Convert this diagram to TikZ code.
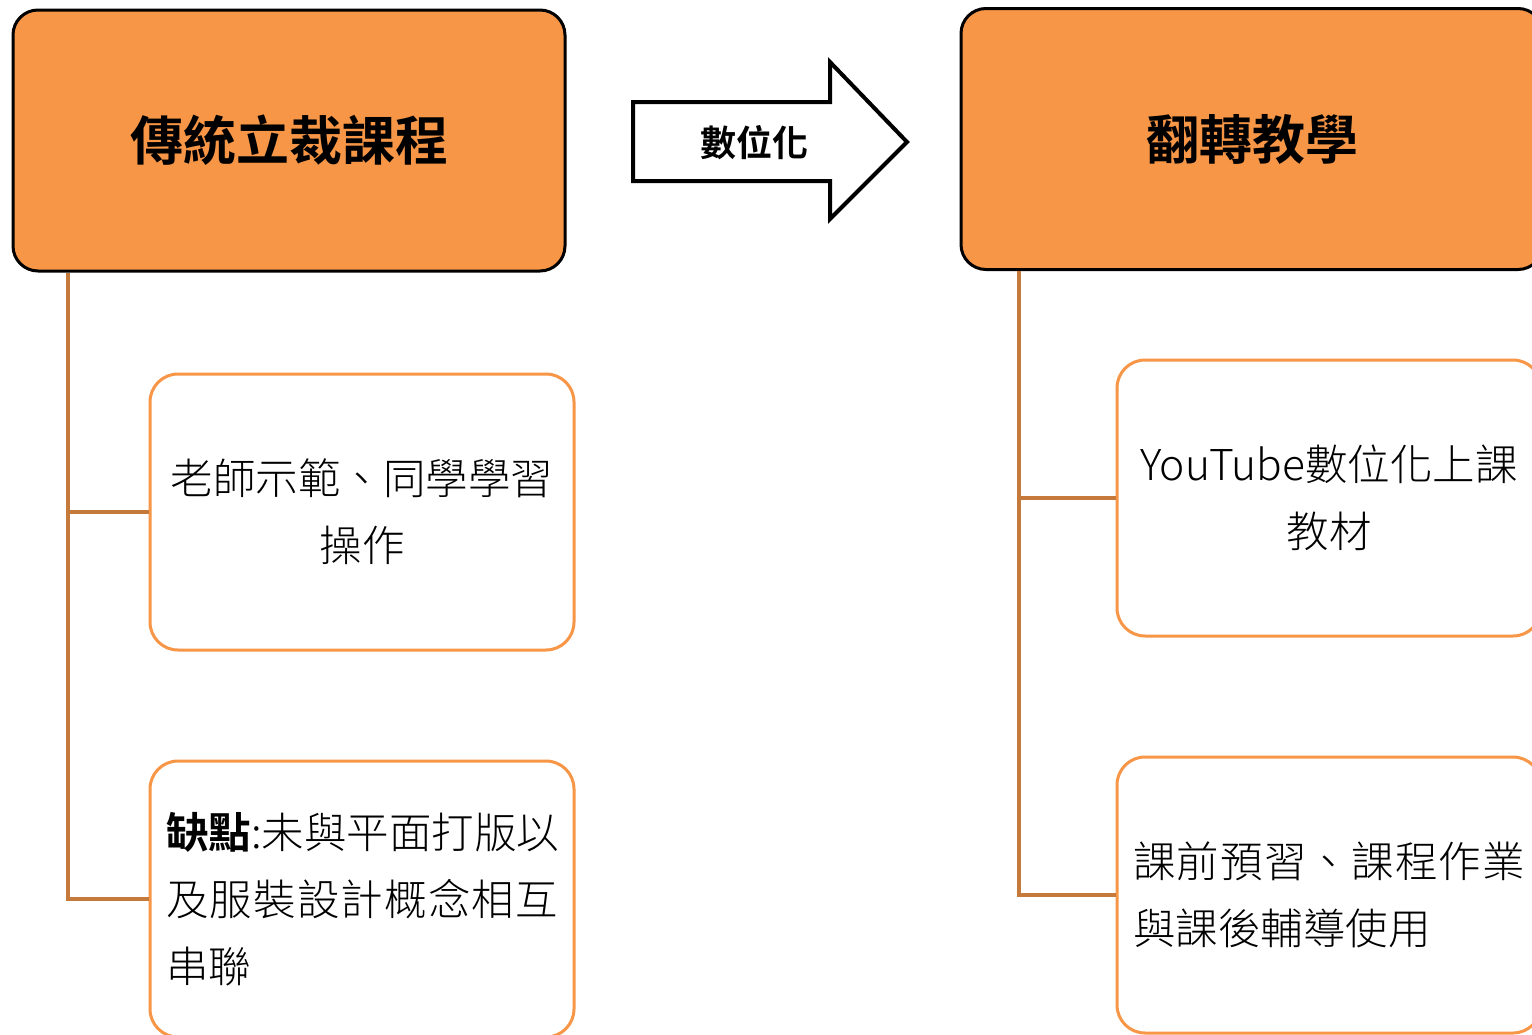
\documentclass[tikz,border=0pt]{standalone}
\usepackage{fontspec}
\setmainfont{Noto Sans CJK TC Light}[BoldFont={Noto Sans CJK TC Bold}]
\usetikzlibrary{calc}
\definecolor{boxorange}{RGB}{247,150,70}
\definecolor{linebrown}{RGB}{197,122,60}
\newcommand\jline[1]{\makebox[392pt][s]{#1}}
\begin{document}
\begin{tikzpicture}[x=1pt,y=-1pt,
 topbox/.style={draw=black, line width=3pt, fill=boxorange, rounded corners=25pt, minimum width=552pt, minimum height=261pt, inner sep=0pt, font=\fontsize{53}{60}\selectfont\bfseries},
 childbox/.style={draw=boxorange, line width=3pt, fill=white, rounded corners=28pt, minimum width=424pt, minimum height=276pt, inner sep=0pt, text width=392pt, font=\fontsize{42.5}{67}\selectfont},
 conn/.style={draw=linebrown, line width=4pt},
 arrowshape/.style={draw=black, line width=4pt, line join=miter, fill=white}]
\useasboundingbox (0,0) rectangle (1532,1034);
\fill[white] (0,0) rectangle (1532,1034);
\clip (0,0) rectangle (1532,1034);
% top boxes
\node[topbox] (trad) at (289,140.5) {傳統立裁課程};
\node[topbox, minimum width=582pt] (flip) at (1252,139) {翻轉教學};
% children
\node[childbox, align=center] (c1) at (362,512) {老師示範、同學學習\\操作};
\node[childbox, align=left] (c2) at (362,899) {\jline{\textbf{缺\hfill 點}\hfill :\hfill 未\hfill 與\hfill 平\hfill 面\hfill 打\hfill 版\hfill 以}\\\jline{及\hfill 服\hfill 裝\hfill 設\hfill 計\hfill 概\hfill 念\hfill 相\hfill 互}\\串聯};
\node[childbox, align=center] (c3) at (1329,498) {YouTube數位化上課\\教材};
\node[childbox, align=left] (c4) at (1329,895) {\jline{課\hfill 前\hfill 預\hfill 習\hfill 、\hfill 課\hfill 程\hfill 作\hfill 業}\\與課後輔導使用};
% connectors
\coordinate (tradstem) at ($(trad.south west)+(56,0)$);
\coordinate (flipstem) at ($(flip.south west)+(59,0)$);
\draw[conn] (tradstem) |- (c1.west);
\draw[conn] (tradstem) |- (c2.west);
\draw[conn] (flipstem) |- (c3.west);
\draw[conn] (flipstem) |- (c4.west);
% arrow
\draw[arrowshape] (633,102) -- (830,102) -- (830,62) -- (907,142) -- (830,219) -- (830,181) -- (633,181) -- cycle;
\node[font=\fontsize{36}{40}\selectfont\bfseries] (digit) at (754,143) {數位化};
\end{tikzpicture}
\end{document}
